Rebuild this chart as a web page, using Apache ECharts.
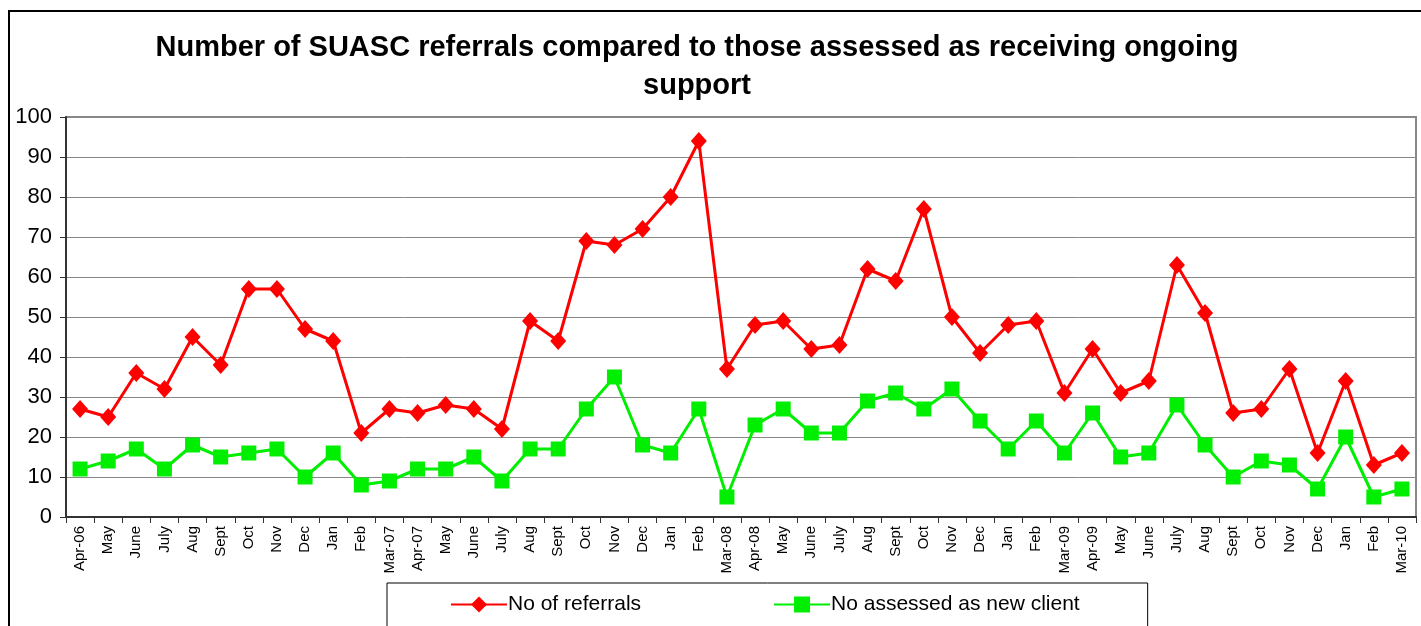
<!DOCTYPE html>
<html>
<head>
<meta charset="utf-8">
<script src="https://cdn.jsdelivr.net/npm/echarts@6/dist/echarts.min.js"></script>
<style>
  html, body { margin: 0; padding: 0; background: #fff; }
  #chart { width: 1421px; height: 626px; }
</style>
</head>
<body>
<div id="chart"></div>
<script>
const months = [
  'Apr-06', 'May', 'June', 'July', 'Aug', 'Sept', 'Oct', 'Nov', 'Dec', 'Jan', 'Feb', 'Mar-07',
  'Apr-07', 'May', 'June', 'July', 'Aug', 'Sept', 'Oct', 'Nov', 'Dec', 'Jan', 'Feb', 'Mar-08',
  'Apr-08', 'May', 'June', 'July', 'Aug', 'Sept', 'Oct', 'Nov', 'Dec', 'Jan', 'Feb', 'Mar-09',
  'Apr-09', 'May', 'June', 'July', 'Aug', 'Sept', 'Oct', 'Nov', 'Dec', 'Jan', 'Feb', 'Mar-10'
]
const referrals = [
  27, 25, 36, 32, 45, 38, 57, 57, 47, 44, 21, 27,
  26, 28, 27, 22, 49, 44, 69, 68, 72, 80, 94, 37,
  48, 49, 42, 43, 62, 59, 77, 50, 41, 48, 49, 31,
  42, 31, 34, 63, 51, 26, 27, 37, 16, 34, 13, 16
]
const newClients = [
  12, 14, 17, 12, 18, 15, 16, 17, 10, 16, 8, 9,
  12, 12, 15, 9, 17, 17, 27, 35, 18, 16, 27, 5,
  23, 27, 21, 21, 29, 31, 27, 32, 24, 17, 24, 16,
  26, 15, 16, 28, 18, 10, 14, 13, 7, 20, 5, 7
]
const yTicks = { min: 0, max: 100, step: 10 }

const font = '"Liberation Sans", Arial, sans-serif'

const chart = echarts.init(document.getElementById('chart'), null, { renderer: 'canvas' })

chart.setOption({
  animation: false,
  textStyle: { fontFamily: font },
  graphic: [
    {
      type: 'rect',
      shape: { x: 9, y: 11, width: 1440, height: 700 },
      style: { fill: 'none', stroke: '#000', lineWidth: 2 },
      silent: true
    }
  ],
  title: {
    text: 'Number of SUASC referrals compared to those assessed as receiving ongoing\nsupport',
    left: 692,
    top: 24,
    textAlign: 'center',
    textStyle: {
      fontFamily: font,
      fontSize: 29,
      fontWeight: 'bold',
      color: '#000',
      lineHeight: 38
    }
  },
  grid: {
    left: 66,
    right: 5,
    top: 117,
    bottom: 109,
    show: true,
    borderColor: '#888',
    borderWidth: 2
  },
  legend: {
    left: 387,
    top: 583,
    padding: [11, 68, 30, 63],
    borderColor: '#000',
    borderWidth: 1,
    itemWidth: 56,
    itemHeight: 20,
    itemGap: 132,
    textStyle: { fontFamily: font, fontSize: 21, color: '#000', padding: [0, 0, 0, -4] },
    data: ['No of referrals', 'No assessed as new client']
  },
  xAxis: {
    type: 'category',
    data: months,
    boundaryGap: true,
    axisLine: { lineStyle: { color: '#333', width: 2 } },
    axisTick: { show: true, length: 6, lineStyle: { color: '#333' } },
    axisLabel: {
      interval: 0,
      rotate: 90,
      fontFamily: font,
      fontSize: 15,
      color: '#000',
      margin: 9
    },
    splitLine: { show: false }
  },
  yAxis: {
    type: 'value',
    min: yTicks.min,
    max: yTicks.max,
    interval: yTicks.step,
    axisLine: { show: true, lineStyle: { color: '#333', width: 2 } },
    axisTick: { show: true, length: 6, lineStyle: { color: '#333' } },
    axisLabel: { fontFamily: font, fontSize: 22, color: '#000', margin: 14 },
    splitLine: { lineStyle: { color: '#888', width: 1 } }
  },
  series: [
    {
      name: 'No of referrals',
      type: 'line',
      data: referrals,
      symbol: 'diamond',
      symbolSize: [16, 18],
      itemStyle: { color: '#ff0000' },
      lineStyle: { color: '#ff0000', width: 3 }
    },
    {
      name: 'No assessed as new client',
      type: 'line',
      data: newClients,
      symbol: 'rect',
      symbolSize: 15,
      itemStyle: { color: '#00ee00' },
      lineStyle: { color: '#00ee00', width: 3 }
    }
  ]
})
</script>
</body>
</html>
